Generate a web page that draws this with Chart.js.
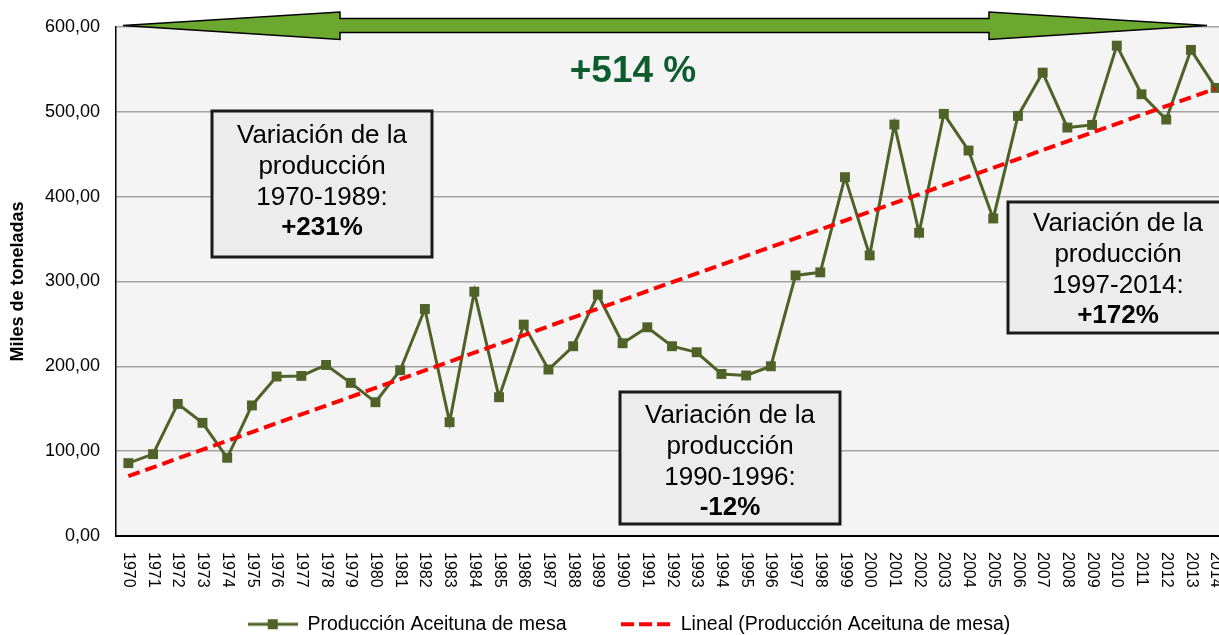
<!DOCTYPE html>
<html lang="es">
<head>
<meta charset="UTF-8">
<title>Producción Aceituna de mesa</title>
<script src="https://cdn.jsdelivr.net/npm/chart.js@4.4.0/dist/chart.umd.min.js"></script>
<style>
    html, body { margin: 0; padding: 0; background: #fff; overflow: hidden; }
    #wrap { width: 1288px; height: 644px; }
</style>
</head>
<body>
<div id="wrap"><canvas id="chart" width="1288" height="644"></canvas></div>
<script>
    // data (miles de toneladas)
    const years = ['1970', '1971', '1972', '1973', '1974', '1975', '1976', '1977', '1978', '1979',
        '1980', '1981', '1982', '1983', '1984', '1985', '1986', '1987', '1988', '1989',
        '1990', '1991', '1992', '1993', '1994', '1995', '1996', '1997', '1998', '1999',
        '2000', '2001', '2002', '2003', '2004', '2005', '2006', '2007', '2008', '2009',
        '2010', '2011', '2012', '2013', '2014'];
    const production = [85.9, 96.5, 155.7, 133.4, 92.2, 153.9, 188.0, 188.7, 201.6, 180.5,
        157.7, 195.4, 267.6, 134.2, 288.0, 163.6, 249.2, 196.2, 223.7, 284.5,
        227.2, 246.0, 223.7, 216.6, 191.0, 189.2, 200.1, 307.2, 310.8, 423.0,
        330.8, 485.0, 357.5, 497.6, 454.4, 374.3, 495.2, 546.2, 481.5, 484.6,
        578.0, 520.7, 490.9, 573.0, 528.2];
    // trend line ends (first and last year)
    const trendStart = 70.6;
    const trendEnd = 527.5;
    const yTicks = [0, 100, 200, 300, 400, 500, 600];

    const trend = years.map((y, i) => i == 0 ? trendStart : (i == years.length - 1 ? trendEnd : null));

    const FONT = '"Liberation Sans", Arial, sans-serif';
    const olive = '#4f6228';

    // legend icons
    function makeIcon(kind) {
        const c = document.createElement('canvas');
        c.width = 50; c.height = 20;
        const g = c.getContext('2d');
        if (kind == 1) {
            g.strokeStyle = olive; g.lineWidth = 3;
            g.beginPath(); g.moveTo(0, 10); g.lineTo(50, 10); g.stroke();
            g.fillStyle = olive; g.fillRect(20, 5, 10, 10);
        } else {
            g.strokeStyle = '#ff0000'; g.lineWidth = 4;
            g.setLineDash([13, 5]);
            g.beginPath(); g.moveTo(0, 10); g.lineTo(50, 10); g.stroke();
        }
        return c;
    }
    const icons = [makeIcon(1), makeIcon(2)];

    const decor = {
        id: 'decor',
        afterLayout(chart) {
            // legend is centred a bit right of the plot in the original
            chart.legend.left += 15;
            chart.legend.right += 15;
        },
        beforeDraw(chart) {
            const a = chart.chartArea, ctx = chart.ctx;
            ctx.save();
            ctx.fillStyle = '#f4f4f4';
            ctx.fillRect(a.left, a.top, a.right - a.left, a.bottom - a.top);
            ctx.restore();
        },
        afterDraw(chart) {
            const ctx = chart.ctx, xs = chart.scales.x;
            ctx.save();
            // x labels, rotated clockwise
            ctx.fillStyle = '#000';
            ctx.font = '16px ' + FONT;
            ctx.textAlign = 'left';
            ctx.textBaseline = 'middle';
            years.forEach((y, i) => {
                ctx.save();
                ctx.translate(xs.getPixelForTick(i), 552);
                ctx.rotate(Math.PI / 2);
                ctx.fillText(y, 0, 0);
                ctx.restore();
            });

            // double arrow
            ctx.beginPath();
            ctx.moveTo(123, 25.5);
            ctx.lineTo(340, 12); ctx.lineTo(340, 18.5);
            ctx.lineTo(989, 18.5); ctx.lineTo(989, 12);
            ctx.lineTo(1207, 25.5);
            ctx.lineTo(989, 39.5); ctx.lineTo(989, 32.5);
            ctx.lineTo(340, 32.5); ctx.lineTo(340, 39.5);
            ctx.closePath();
            ctx.fillStyle = '#6ca72f';
            ctx.fill();
            ctx.lineWidth = 1.5;
            ctx.strokeStyle = '#000';
            ctx.stroke();

            ctx.fillStyle = '#0d5c2d';
            ctx.font = 'bold 37px ' + FONT;
            ctx.textAlign = 'center';
            ctx.fillText('+514 %', 633, 72);

            // text boxes
            const boxes = [
                {l: 212, t: 111, r: 432, b: 257, y0: 136, lines: ['Variación de la', 'producción', '1970-1989:', '+231%']},
                {l: 620, t: 392, r: 840, b: 524, y0: 416, lines: ['Variación de la', 'producción', '1990-1996:', '-12%']},
                {l: 1008, t: 202, r: 1228, b: 333, y0: 224, lines: ['Variación de la', 'producción', '1997-2014:', '+172%']}
            ];
            boxes.forEach(bx => {
                ctx.fillStyle = '#ececec';
                ctx.fillRect(bx.l, bx.t, bx.r - bx.l, bx.b - bx.t);
                ctx.lineWidth = 3;
                ctx.strokeStyle = '#1a1a1a';
                ctx.strokeRect(bx.l, bx.t, bx.r - bx.l, bx.b - bx.t);
                ctx.fillStyle = '#000';
                bx.lines.forEach((s, k) => {
                    ctx.font = (k == 3 ? 'bold ' : '') + '26px ' + FONT;
                    ctx.fillText(s, (bx.l + bx.r) / 2, bx.y0 + k * 30.7);
                });
            });
            ctx.restore();
        }
    };

    new Chart(document.getElementById('chart'), {
        type: 'line',
        data: {
            labels: years,
            datasets: [{
                    label: 'Producción Aceituna de mesa',
                    data: production,
                    borderColor: olive,
                    backgroundColor: olive,
                    borderWidth: 3,
                    pointStyle: 'rect',
                    pointRadius: 7,
                    pointBorderWidth: 0,
                    tension: 0,
                    order: 0
                },
                {
                    label: 'Lineal (Producción Aceituna de mesa)',
                    data: trend,
                    borderColor: '#ff0000',
                    borderWidth: 4,
                    borderDash: [12, 6],
                    pointRadius: 0,
                    spanGaps: true,
                    order: -1
                }
            ]
        },
        options: {
            responsive: false,
            animation: false,
            layout: { padding: { top: 27, right: 60, left: 0, bottom: 0 } },
            plugins: {
                tooltip: { enabled: false },
                legend: {
                    position: 'bottom',
                    labels: {
                        color: '#000',
                        font: { family: FONT, size: 19.5 },
                        usePointStyle: true,
                        pointStyleWidth: 50,
                        padding: 54.5,
                        generateLabels(chart) {
                            const items = Chart.defaults.plugins.legend.labels.generateLabels(chart);
                            items.sort((a, b) => a.datasetIndex - b.datasetIndex);
                            items.forEach(it => { it.pointStyle = icons[it.datasetIndex]; });
                            return items;
                        }
                    }
                }
            },
            scales: {
                x: {
                    offset: true,
                    grid: { display: false },
                    border: { display: true, color: '#000', width: 2 },
                    ticks: { display: false },
                    afterFit: s => { s.height = 24; }
                },
                y: {
                    min: 0,
                    max: 600,
                    afterBuildTicks: s => { s.ticks = yTicks.map(v => ({ value: v })); },
                    grid: { color: '#a3a3a3', lineWidth: 1.5, drawTicks: false },
                    border: { display: true, color: '#000', width: 1.5 },
                    ticks: {
                        color: '#000',
                        padding: 16,
                        font: { family: FONT, size: 18 },
                        callback: v => v.toFixed(2).replace('.', ',')
                    },
                    title: {
                        display: true,
                        text: 'Miles de toneladas',
                        color: '#000',
                        font: { family: FONT, size: 18, weight: 'bold' },
                        padding: { top: 7, bottom: 0 }
                    },
                    afterFit: s => { s.width = 116; }
                }
            }
        },
        plugins: [decor]
    });
</script>
</body>
</html>
